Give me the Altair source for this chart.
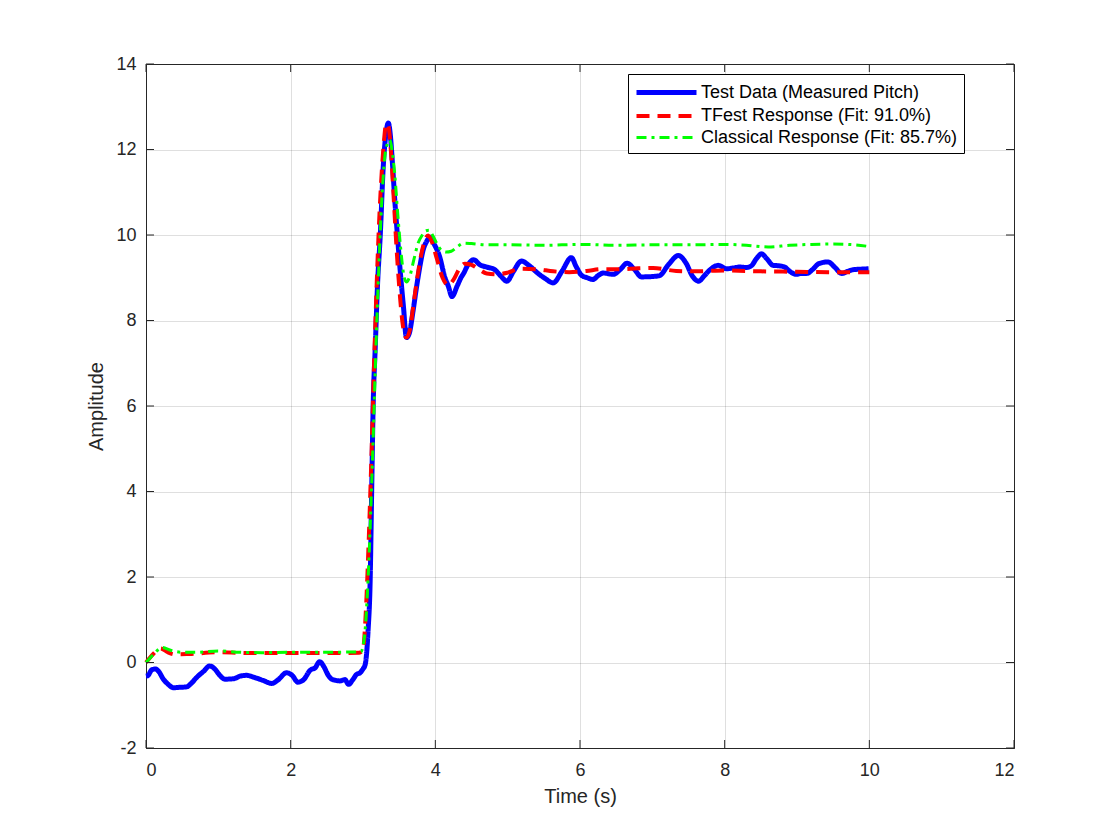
import altair as alt
import pandas as pd

# ---- data ----
series_names = ["Test Data (Measured Pitch)", "TFest Response (Fit: 91.0%)", "Classical Response (Fit: 85.7%)"]
series_colors = ["#0000ff", "#ff0000", "#00ff00"]
series_dashes = [[1, 0], [13, 8], [10, 5, 3, 5]]
series_widths = [5, 3, 3]

x_ticks = [0, 2, 4, 6, 8, 10, 12]
y_ticks = [-2, 0, 2, 4, 6, 8, 10, 12, 14]

meas_t = [0.00, 0.03, 0.08, 0.13, 0.18, 0.24, 0.30, 0.38, 0.47, 0.56, 0.63, 0.70, 0.80, 0.88, 0.95, 1.02,
          1.09, 1.21, 1.30, 1.39, 1.50, 1.62, 1.74, 1.83, 1.94, 2.02, 2.10, 2.18, 2.27, 2.34, 2.40, 2.46,
          2.52, 2.57, 2.68, 2.75, 2.80, 2.86, 2.91, 2.96, 3.00, 3.03, 3.07, 3.10, 3.12, 3.14, 3.17, 3.20,
          3.24, 3.28, 3.32, 3.35, 3.38, 3.41, 3.44, 3.48, 3.51, 3.56, 3.60, 3.64, 3.69, 3.74, 3.79, 3.83,
          3.88, 3.93, 3.98, 4.06, 4.13, 4.18, 4.23, 4.30, 4.36, 4.39, 4.45, 4.53, 4.62, 4.71, 4.82, 4.90,
          4.99, 5.08, 5.19, 5.30, 5.40, 5.52, 5.63, 5.75, 5.88, 5.95, 6.02, 6.10, 6.18, 6.25, 6.32, 6.46,
          6.56, 6.65, 6.75, 6.85, 7.01, 7.10, 7.22, 7.36, 7.47, 7.55, 7.64, 7.72, 7.80, 7.91, 8.03, 8.12,
          8.21, 8.30, 8.37, 8.44, 8.51, 8.58, 8.67, 8.75, 8.83, 8.90, 8.99, 9.06, 9.13, 9.22, 9.30, 9.43,
          9.52, 9.62, 9.70, 9.78, 9.88, 9.99]
meas_v = [-0.32, -0.30, -0.17, -0.15, -0.22, -0.39, -0.50, -0.59, -0.58, -0.57, -0.48, -0.35, -0.20, -0.08, -0.15, -0.30,
          -0.39, -0.38, -0.32, -0.30, -0.35, -0.42, -0.49, -0.40, -0.24, -0.30, -0.46, -0.40, -0.18, -0.12, 0.02, -0.10,
          -0.30, -0.39, -0.43, -0.40, -0.51, -0.40, -0.28, -0.24, -0.15, -0.05, 0.74, 1.99, 4.02, 5.97, 7.40, 8.80,
          10.04, 11.60, 12.40, 12.62, 12.30, 11.60, 10.80, 9.90, 9.25, 8.31, 7.60, 7.70, 8.20, 8.78, 9.30, 9.64,
          9.85, 9.95, 9.80, 9.49, 9.02, 8.80, 8.56, 8.80, 9.02, 9.10, 9.30, 9.42, 9.30, 9.25, 9.19, 9.05,
          8.92, 9.15, 9.39, 9.28, 9.13, 8.98, 8.88, 9.15, 9.47, 9.25, 9.06, 9.00, 8.96, 9.05, 9.11, 9.08,
          9.20, 9.34, 9.20, 9.02, 9.03, 9.05, 9.30, 9.52, 9.33, 9.05, 8.92, 9.05, 9.19, 9.29, 9.21, 9.23,
          9.25, 9.24, 9.28, 9.45, 9.56, 9.45, 9.29, 9.28, 9.25, 9.15, 9.08, 9.10, 9.10, 9.20, 9.33, 9.37,
          9.25, 9.10, 9.15, 9.19, 9.20, 9.21]

tfest_t = [0.0, 0.1, 0.2, 0.3, 0.4, 0.6, 1.0, 1.5, 2.0, 2.5, 2.95, 3.0, 3.03, 3.06, 3.09, 3.12, 3.15, 3.18, 3.22,
           3.26, 3.29, 3.32, 3.35, 3.38, 3.42, 3.46, 3.50, 3.55, 3.60, 3.65, 3.70, 3.75, 3.80, 3.85, 3.90, 3.95,
           4.02, 4.10, 4.18, 4.25, 4.33, 4.41, 4.50, 4.60, 4.71, 4.85, 5.0, 5.17, 5.4, 5.63, 5.85, 6.09, 6.3,
           6.55, 6.8, 7.01, 7.33, 7.6, 8.0, 8.5, 9.0, 9.5, 10.0]
tfest_v = [0.0, 0.2, 0.33, 0.24, 0.19, 0.2, 0.24, 0.22, 0.22, 0.22, 0.23, 0.3, 0.9, 2.0, 3.4, 5.0, 6.8, 8.4, 10.2,
           11.5, 12.2, 12.6, 12.55, 12.1, 11.0, 9.8, 8.8, 7.9, 7.6, 7.8, 8.4, 9.0, 9.5, 9.85, 9.99, 9.85,
           9.45, 9.0, 8.82, 8.95, 9.2, 9.33, 9.3, 9.2, 9.1, 9.08, 9.12, 9.21, 9.2, 9.15, 9.13, 9.16, 9.2,
           9.2, 9.22, 9.23, 9.16, 9.15, 9.17, 9.15, 9.14, 9.13, 9.13]

class_t = [0.0, 0.1, 0.22, 0.35, 0.5, 0.7, 1.0, 1.3, 1.6, 2.0, 2.5, 2.97, 3.02, 3.06, 3.10, 3.14, 3.18, 3.22,
           3.26, 3.30, 3.34, 3.37, 3.40, 3.44, 3.48, 3.52, 3.56, 3.60, 3.65, 3.70, 3.76, 3.82, 3.87, 3.91,
           3.96, 4.02, 4.08, 4.15, 4.22, 4.30, 4.39, 4.5, 4.7, 5.0, 5.5, 6.0, 6.5, 7.0, 7.5, 8.0, 8.3, 8.6,
           8.9, 9.2, 9.5, 9.8, 10.0]
class_v = [0.0, 0.18, 0.35, 0.28, 0.24, 0.24, 0.27, 0.24, 0.23, 0.24, 0.24, 0.25, 0.6, 1.6, 3.2, 5.2, 7.4, 9.3,
           10.8, 11.8, 12.15, 12.22, 12.0, 11.4, 10.5, 9.7, 9.1, 8.9, 9.05, 9.4, 9.8, 10.0, 10.1, 10.11,
           10.0, 9.8, 9.65, 9.6, 9.62, 9.72, 9.81, 9.8, 9.77, 9.77, 9.76, 9.78, 9.76, 9.77, 9.77, 9.78, 9.76, 9.72,
           9.76, 9.78, 9.79, 9.77, 9.73]

W, H = 868, 684
FONT = "Liberation Sans"
AX = "#262626"

def frame(ts, vs, name):
    return pd.DataFrame({"t": ts, "v": vs, "series": name})

dfs = [frame(meas_t, meas_v, series_names[0]),
       frame(tfest_t, tfest_v, series_names[1]),
       frame(class_t, class_v, series_names[2])]

X = alt.X("t:Q", scale=alt.Scale(domain=[0, 12], nice=False, zero=False),
          axis=alt.Axis(values=x_ticks, title="Time (s)", ticks=False, tickSize=0,
                        labelPadding=13, titlePadding=7, labelExpr="toString(datum.value)"))
Y = alt.Y("v:Q", scale=alt.Scale(domain=[-2, 14], nice=False, zero=False),
          axis=alt.Axis(values=y_ticks, title="Amplitude", ticks=False, tickSize=0,
                        labelPadding=10, titlePadding=9, labelExpr="toString(datum.value)"))

def leg():
    return alt.Legend(title=None, orient="none", legendX=482, legendY=10,
                      symbolType="M-1,0H5", symbolSize=400,
                      fillColor="white", strokeColor="black", padding=6,
                      labelFontSize=18, labelFont=FONT, labelColor="black",
                      rowPadding=1, labelOffset=42, labelLimit=400)

color = alt.Color("series:N", scale=alt.Scale(domain=series_names, range=series_colors), legend=leg())
dash = alt.StrokeDash("series:N", scale=alt.Scale(domain=series_names, range=series_dashes), legend=leg())
width = alt.StrokeWidth("series:N", scale=alt.Scale(domain=series_names, range=series_widths), legend=leg())

lines = [alt.Chart(d).mark_line(strokeCap="butt", strokeJoin="round", interpolate="monotone")
         .encode(x=X, y=Y, color=color, strokeDash=dash, strokeWidth=width)
         for d in dfs]

xt = pd.DataFrame({"t": x_ticks})
yt = pd.DataFrame({"v": y_ticks})
tick_len = 8
ticks = [
    alt.Chart(xt).mark_rule(color=AX, strokeWidth=1).encode(x=X, y=alt.value(H), y2=alt.value(H - tick_len)),
    alt.Chart(xt).mark_rule(color=AX, strokeWidth=1).encode(x=X, y=alt.value(0), y2=alt.value(tick_len)),
    alt.Chart(yt).mark_rule(color=AX, strokeWidth=1).encode(y=Y, x=alt.value(0), x2=alt.value(tick_len)),
    alt.Chart(yt).mark_rule(color=AX, strokeWidth=1).encode(y=Y, x=alt.value(W), x2=alt.value(W - tick_len)),
]

chart = alt.layer(*lines, *ticks).properties(
    width=W, height=H,
    padding={"left": 138, "top": 56, "right": 98, "bottom": 70},
    autosize=alt.AutoSizeParams(type="none"),
    background="white",
).configure_view(
    stroke=AX, strokeWidth=1
).configure_axis(
    grid=True, gridColor=AX, gridOpacity=0.15, gridWidth=1,
    domainColor=AX, domainWidth=1,
    labelFont=FONT, labelFontSize=18, labelColor=AX,
    titleFont=FONT, titleFontSize=20, titleFontWeight="normal", titleColor=AX,
)

chart.save("out.html", embed_options={"renderer": "svg", "actions": False})
